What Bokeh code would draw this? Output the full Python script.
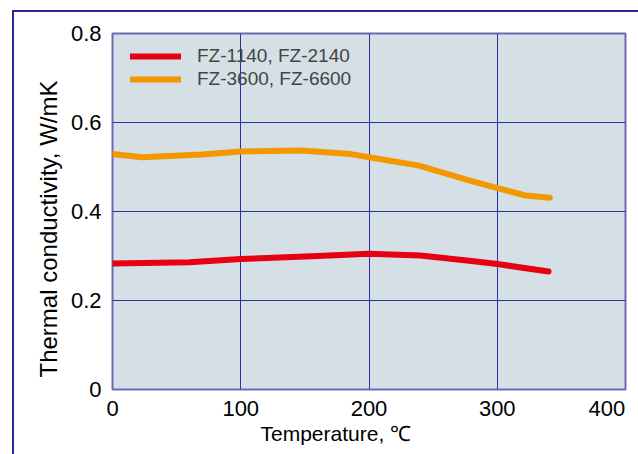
from bokeh.plotting import figure
from bokeh.models import Legend, LegendItem, FixedTicker, Title, InlineStyleSheet
from bokeh.embed import file_html
from bokeh.resources import INLINE

# Data
temp_red = [0, 60, 100, 160, 200, 240, 280, 300, 340]
cond_red = [0.283, 0.286, 0.293, 0.300, 0.305, 0.301, 0.289, 0.282, 0.265]
temp_orange = [0, 23, 70, 100, 147, 186, 200, 239, 278, 301, 322, 341]
cond_orange = [0.529, 0.522, 0.528, 0.535, 0.537, 0.529, 0.522, 0.503, 0.470, 0.452, 0.436, 0.431]
series_names = ["FZ-1140, FZ-2140", "FZ-3600, FZ-6600"]
x_ticks = [0, 100, 200, 300, 400]
y_ticks = [0, 0.2, 0.4, 0.6, 0.8]
y_tick_labels = {0: "0", 0.2: "0.2", 0.4: "0.4", 0.6: "0.6", 0.8: "0.8"}
x_title = "Temperature, \u2103"
y_title = "Thermal conductivity, W/mK"

FONT = "Liberation Sans"
GRID = "#2b2fa0"
LAST_LABEL_SHIFT = 14.5  # last x tick label is drawn flush with the frame's right edge

frame_css = InlineStyleSheet(css="""
:host { position: relative; }
:host::after {
  content: "";
  position: absolute;
  left: 12px; top: 10px; right: 0; bottom: 0;
  border-left: 2px solid #2a2aa0;
  border-top: 2px solid #2a2aa0;
  pointer-events: none;
}
""")

p = figure(width=638, height=454, x_range=(x_ticks[0], x_ticks[-1]), y_range=(y_ticks[0], y_ticks[-1]),
           output_backend="svg", toolbar_location=None,
           min_border_left=112, min_border_right=13, min_border_top=33, min_border_bottom=65)
p.stylesheets = [frame_css]
p.background_fill_color = "#d5dfe6"
p.border_fill_color = "white"
p.outline_line_color = "#6b6bb5"
p.outline_line_width = 2

r1 = p.line(temp_red, cond_red, line_color="#e60012", line_width=6, line_cap="round", line_join="round")
r2 = p.line(temp_orange, cond_orange, line_color="#f39800", line_width=6, line_cap="round", line_join="round")

last_pos = x_ticks[-1] - LAST_LABEL_SHIFT
p.xaxis.ticker = FixedTicker(ticks=x_ticks[:-1] + [last_pos])
p.xaxis.major_label_overrides = {last_pos: str(x_ticks[-1])}
p.yaxis.ticker = FixedTicker(ticks=y_ticks)
p.yaxis.major_label_overrides = y_tick_labels

for ax in (p.xaxis + p.yaxis):
    ax.axis_line_color = None
    ax.major_tick_line_color = None
    ax.minor_tick_line_color = None
    ax.major_label_text_font = FONT
    ax.major_label_text_font_size = "22px"
    ax.major_label_text_color = "black"
    ax.major_label_standoff = 5

xt = Title(text=x_title, align="left", offset=148, standoff=2,
           text_font=FONT, text_font_size="21px", text_font_style="normal", text_color="black")
p.add_layout(xt, "below")
yt = Title(text=y_title, align="left", offset=12, standoff=11,
           text_font=FONT, text_font_size="24px", text_font_style="normal", text_color="black")
p.add_layout(yt, "left")

p.xgrid.ticker = FixedTicker(ticks=x_ticks)
p.ygrid.ticker = FixedTicker(ticks=y_ticks)
p.xgrid.grid_line_color = GRID
p.ygrid.grid_line_color = GRID
p.xgrid.grid_line_width = 1
p.ygrid.grid_line_width = 1

legend = Legend(items=[LegendItem(label=series_names[0], renderers=[r1]),
                       LegendItem(label=series_names[1], renderers=[r2])],
                location=(18, 299), margin=0, padding=0, spacing=1,
                glyph_width=51, glyph_height=22, label_height=22, label_standoff=16,
                label_text_font=FONT, label_text_font_size="19px",
                background_fill_alpha=0, border_line_color=None)
p.add_layout(legend)

open("out.html", "w").write(file_html(p, INLINE))
